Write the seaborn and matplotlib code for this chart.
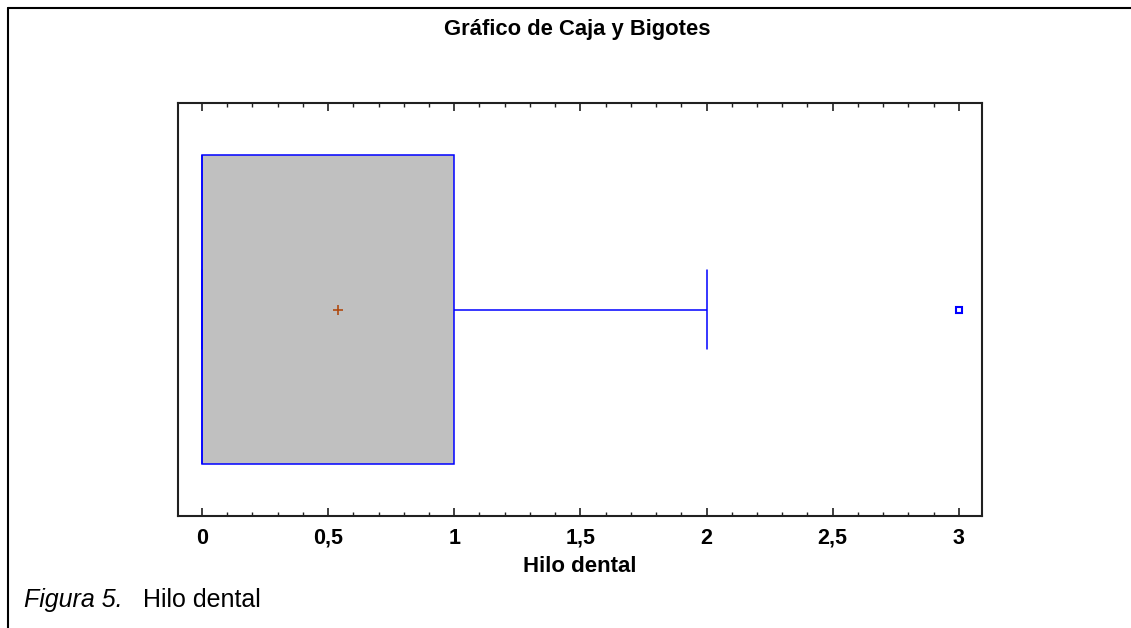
import numpy as np
import pandas as pd
import matplotlib
matplotlib.use("Agg")
import matplotlib.pyplot as plt
import seaborn as sns
from matplotlib.ticker import MultipleLocator, FuncFormatter
from matplotlib.lines import Line2D

# respuestas "Hilo dental" (veces al dia) y cuantas personas dieron cada una
valores = [0, 1, 2, 3]
frecuencias = [30, 14, 5, 1]
xticks = [0, 0.5, 1, 1.5, 2, 2.5, 3]

hilo = np.repeat(valores, frecuencias)
df = pd.DataFrame({"Hilo dental": hilo})

sns.set_style("white")
plt.rcParams['font.family'] = ['Liberation Sans', 'DejaVu Sans']

fig = plt.figure(figsize=(11.31, 6.28), dpi=100)
ax = fig.add_axes([0.1574, 0.1783, 0.7109, 0.6576])

sns.boxplot(data=df, x="Hilo dental", orient="h", width=0.75, whis=1.5,
            color="#c0c0c0", linecolor="#0000ff", linewidth=1.1,
            showmeans=True,
            meanprops=dict(marker="+", markeredgecolor="#b04a10", markersize=7,
                           markeredgewidth=1.2),
            flierprops=dict(marker="s", markerfacecolor="white",
                            markeredgecolor="#0000ff", markersize=5,
                            markeredgewidth=1.5),
            capwidths=0.19, ax=ax)

for p in ax.patches:
    p.set_facecolor("#c0c0c0")
    p.set_edgecolor("#0000ff")

ax.set_xlim(-0.095, 3.092)
ax.set_ylim(0.5, -0.5)
ax.set_yticks([])
ax.set_xticks(xticks)
ax.xaxis.set_minor_locator(MultipleLocator(0.1))
ax.xaxis.set_major_formatter(FuncFormatter(lambda v, p: f"{v:g}".replace(".", ",")))
ax.tick_params(axis="x", which="both", direction="in", top=True, bottom=True,
               color="#202020", labelsize=15.5, pad=8.5, labelcolor="black")
ax.tick_params(axis="x", which="major", length=6, width=1.2)
ax.tick_params(axis="x", which="minor", length=3, width=1.0)
for lbl in ax.get_xticklabels():
    lbl.set_fontweight("bold")
for s in ax.spines.values():
    s.set_color("#202020")
    s.set_linewidth(1.5)

ax.set_xlabel("Hilo dental", fontsize=16, fontweight="bold", labelpad=5,
              color="black")
ax.set_ylabel("")
fig.text(577 / 1131, 1 - 29 / 628, "Gráfico de Caja y Bigotes", ha="center",
         va="center", fontsize=15.8, fontweight="bold", color="black")

# marco exterior
fig.add_artist(Line2D([8/1131, 8/1131], [0, 1 - 8/628], color="black", lw=1.5))
fig.add_artist(Line2D([8/1131, 1], [1 - 8/628, 1 - 8/628], color="black", lw=1.5))

# pie de figura
fig.text(24 / 1131, 1 - 607 / 628, "Figura 5.", ha="left", va="baseline",
         fontsize=18, fontstyle="italic", color="black")
fig.text(143 / 1131, 1 - 607 / 628, "Hilo dental", ha="left", va="baseline",
         fontsize=18, color="black")

fig.savefig("out.png", dpi=100)
